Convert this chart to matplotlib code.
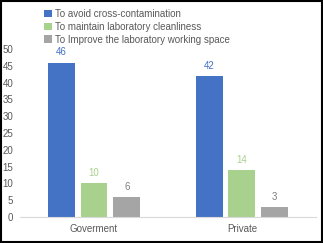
import numpy as np
import matplotlib.pyplot as plt
from matplotlib.patches import Rectangle

plt.rcParams['font.family'] = ['Liberation Sans', 'DejaVu Sans']

categories = ['Goverment', 'Private']
series_names = ['To avoid cross-contamination',
                'To maintain laboratory cleanliness',
                'To Improve the laboratory working space']
avoid = [46, 42]
clean = [10, 14]
space = [6, 3]
yticks = list(range(0, 51, 5))

colors = ['#4472C4', '#A9D18E', '#A5A5A5']
label_colors = ['#4472C4', '#A9D18E', '#7F7F7F']

fig = plt.figure(figsize=(3.23, 2.43), dpi=100)
fig.patch.set_facecolor('white')
ax = fig.add_axes([0.062, 0.107, 0.916, 0.691])

x = np.arange(len(categories))
width = 0.182
step = 0.222
for i, (vals, name) in enumerate(zip([avoid, clean, space], series_names)):
    pos = x + (i - 1) * step
    ax.bar(pos, vals, width, color=colors[i], label=name)
    for p, v in zip(pos, vals):
        ax.text(p, v + 1.5, str(v), ha='center', va='bottom', fontsize=7,
                color=label_colors[i])

ax.set_xlim(-0.5, 1.5)
ax.set_ylim(0, 50)
ax.set_yticks(yticks)
ax.set_xticks(x)
ax.set_xticklabels(categories)
ax.tick_params(axis='both', length=0, labelsize=7, colors='#595959')
ax.tick_params(axis='y', pad=5)
ax.tick_params(axis='x', pad=5)
for s in ['top', 'right', 'left']:
    ax.spines[s].set_visible(False)
ax.spines['bottom'].set_color('#D9D9D9')
ax.spines['bottom'].set_linewidth(0.8)

leg = fig.legend(loc='upper left', bbox_to_anchor=(0.125, 0.98), frameon=False,
                 fontsize=7, handlelength=0.8, handleheight=0.8,
                 handletextpad=0.3, labelspacing=0.3, borderaxespad=0)
for t in leg.get_texts():
    t.set_color('#595959')

# outer frame
fig.patches.append(Rectangle((0.003, 0.004), 0.994, 0.992, transform=fig.transFigure,
                             fill=False, edgecolor='black', linewidth=1.5))

fig.savefig('out.png', dpi=100)
